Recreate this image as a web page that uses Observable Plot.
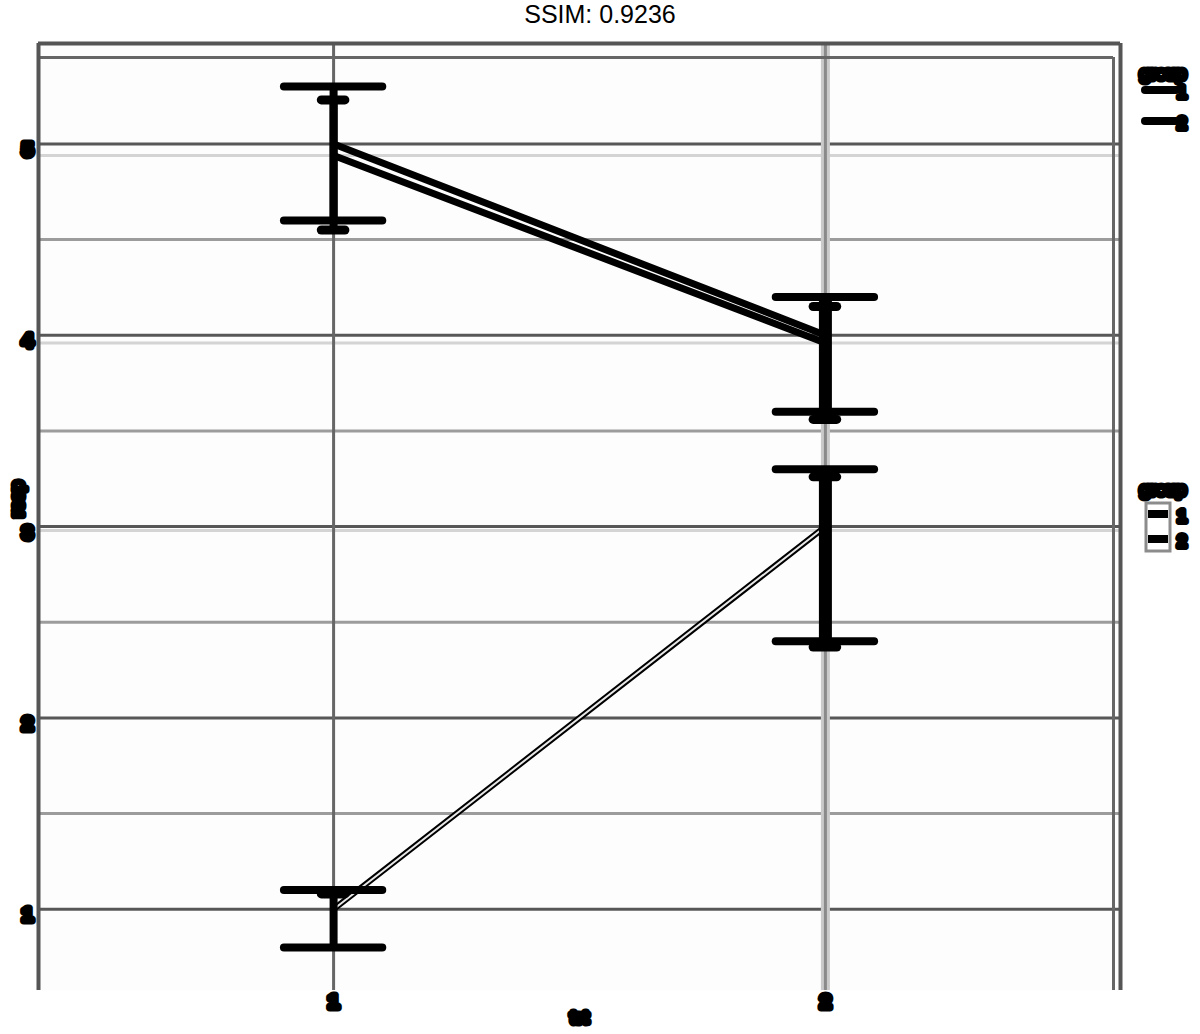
<!DOCTYPE html>
<html><head><meta charset="utf-8">
<script src="https://cdn.jsdelivr.net/npm/d3@7"></script>
<script src="https://cdn.jsdelivr.net/npm/@observablehq/plot@0.6"></script>
<style>
body{margin:0;background:#fff;width:1200px;height:1034px;overflow:hidden}
#title{height:36px;line-height:42px;text-align:center;font:25px "Liberation Sans",Arial,sans-serif;color:#000}
svg{display:block}
</style></head>
<body>
<div id="title">SSIM: 0.9236</div>
<div id="chart"></div>
<script>
// data (ggplot2 geom_errorbar example)
const trt = [1, 1, 2, 2];
const resp = [1, 5, 3, 4];
const group = ["1", "2", "1", "2"];
const upper = [1.1, 5.3, 3.3, 4.2];
const lower = [0.8, 4.6, 2.4, 3.6];
// traces of the second (offset) render in the same units
const resp2 = [1.0, 4.94, 3.0, 3.96];
const upper2 = [1.08, 5.23, 3.26, 4.15];
const lower2 = [null, 4.55, 2.37, 3.56];
const yGrid2 = [4.94, 3.96, 2.98];
// axes
const yTicks = [1, 2, 3, 4, 5];
const yMinor = [1.5, 2.5, 3.5, 4.5];
const xTicks = [1, 2];
const xLabels = ["1", "2"];
const legendTitle = "group";
const legendLabels = ["1", "2"];
const xTitle = "trt";
const yTitle = "resp";

const rows = trt.map((t, i) => ({trt: t, resp: resp[i], group: group[i], upper: upper[i], lower: lower[i],
  resp2: resp2[i], upper2: upper2[i], lower2: lower2[i]}));
const g1 = rows.filter(d => d.group === "1");
const g2 = rows.filter(d => d.group === "2");

const lo = d3.min(lower), hi = d3.max(upper), pad = (hi - lo) * 0.05;
const yDomain = [lo - pad, hi + pad];
const xDomain = [0.4, 2.6];

const blob = {fontFamily: "Liberation Sans, Arial, sans-serif", fontWeight: "bold", fontSize: 19,
  fill: "black", stroke: "black", strokeWidth: 7, strokeLinejoin: "round"};

const plot = Plot.plot({
  width: 1200, height: 998,
  marginLeft: 38, marginRight: 80, marginTop: 7, marginBottom: 44,
  x: {type: "linear", domain: xDomain, axis: null},
  y: {type: "linear", domain: yDomain, axis: null},
  marks: [
    Plot.frame({fill: "#fdfdfd", stroke: "none"}),
    Plot.ruleY(yMinor, {stroke: "#9c9c9c", strokeWidth: 3}),
    Plot.ruleY(yGrid2, {stroke: "#d4d4d4", strokeWidth: 3}),
    Plot.ruleY(yTicks, {stroke: "#575757", strokeWidth: 3}),
    Plot.ruleX([xTicks[0]], {stroke: "#666", strokeWidth: 3}),
    Plot.ruleX([xTicks[1]], {stroke: "#cacaca", strokeWidth: 9}),
    Plot.ruleX([xTicks[1]], {stroke: "#8a8a8a", strokeWidth: 3}),
    // panel borders (two overlapping renders)
    Plot.ruleY([yDomain[1]], {stroke: "#555", strokeWidth: 4}),
    Plot.ruleY([yDomain[1]], {dy: 14, insetRight: 7, stroke: "#666", strokeWidth: 3}),
    Plot.ruleX([xDomain[0]], {stroke: "#555", strokeWidth: 4}),
    Plot.ruleX([xDomain[1]], {stroke: "#555", strokeWidth: 4}),
    Plot.ruleX([xDomain[1]], {dx: -7, insetTop: 14, stroke: "#666", strokeWidth: 3}),
    // lines
    Plot.line(g2, {x: "trt", y: "resp", stroke: "black", strokeWidth: 7}),
    Plot.line(g2, {x: "trt", y: "resp2", stroke: "black", strokeWidth: 7}),
    Plot.line(g1, {x: "trt", y: "resp", stroke: "black", strokeWidth: 6}),
    Plot.line(g1, {x: "trt", y: "resp", stroke: "#e8e8e8", strokeWidth: 2}),
    // error bar stems
    Plot.ruleX(rows.filter(d => d.trt === 1), {x: "trt", y1: "lower", y2: "upper", stroke: "black", strokeWidth: 8}),
    Plot.ruleX(rows.filter(d => d.trt === 2), {x: "trt", y1: "lower", y2: "upper", stroke: "black", strokeWidth: 13}),
    Plot.ruleX(rows.filter(d => d.lower2 != null), {x: "trt", y1: "lower2", y2: "upper2", stroke: "black", strokeWidth: 8}),
    // wide caps
    Plot.ruleY(rows, {y: "upper", x1: d => d.trt - 0.1, x2: d => d.trt + 0.1, stroke: "black", strokeWidth: 8, strokeLinecap: "round"}),
    Plot.ruleY(rows, {y: "lower", x1: d => d.trt - 0.1, x2: d => d.trt + 0.1, stroke: "black", strokeWidth: 8, strokeLinecap: "round"}),
    // narrow caps (second render)
    Plot.ruleY(rows, {y: "upper2", x1: d => d.trt - 0.024, x2: d => d.trt + 0.024, stroke: "black", strokeWidth: 9, strokeLinecap: "round"}),
    Plot.ruleY(rows.filter(d => d.lower2 != null), {y: "lower2", x1: d => d.trt - 0.024, x2: d => d.trt + 0.024, stroke: "black", strokeWidth: 9, strokeLinecap: "round"}),
    // tick labels
    Plot.text(yTicks, {y: d => d, text: d => String(d), frameAnchor: "left", dx: -11, dy: 6, textAnchor: "middle", ...blob}),
    Plot.text(xTicks, {x: d => d, text: (d, i) => xLabels[i], frameAnchor: "bottom", dy: 17, ...blob}),
    Plot.text([xTitle], {x: (xDomain[0] + xDomain[1]) / 2, text: d => d, frameAnchor: "bottom", dy: 32, ...blob, fontSize: 17}),
    Plot.text([yTitle], {y: (yDomain[0] + yDomain[1]) / 2, text: d => d, frameAnchor: "left", dx: -21, rotate: -90, ...blob, fontSize: 17})
  ]
});
document.getElementById("chart").appendChild(plot);

// legends (two overlapping renders)
const svg = d3.select(plot);
const off = 36;
function legend(y0, boxed) {
  const g = svg.append("g").attr("font-family", "Liberation Sans, Arial, sans-serif").attr("font-weight", "bold");
  g.append("text").attr("x", 1163).attr("y", y0 - off).attr("text-anchor", "middle").attr("dy", "0.35em")
    .attr("font-size", 16).attr("fill", "black").attr("stroke", "black").attr("stroke-width", 7)
    .attr("stroke-linejoin", "round").text(legendTitle);
  const ky = boxed ? [y0 + 25, y0 + 50] : [y0 + 17, y0 + 48];
  if (boxed) g.append("rect").attr("x", 1146).attr("y", y0 + 14 - off).attr("width", 24).attr("height", 48)
    .attr("fill", "none").attr("stroke", "#8c8c8c").attr("stroke-width", 3);
  legendLabels.forEach((lab, i) => {
    g.append("line").attr("x1", boxed ? 1148 : 1145).attr("x2", boxed ? 1168 : 1176)
      .attr("y1", ky[i] - off).attr("y2", ky[i] - off).attr("stroke", "black").attr("stroke-width", 8)
      .attr("stroke-linecap", boxed ? "butt" : "round");
    g.append("text").attr("x", 1182).attr("y", ky[i] + 2 - off).attr("dy", "0.35em").attr("text-anchor", "middle")
      .attr("font-size", 16).attr("fill", "black").attr("stroke", "black").attr("stroke-width", 6)
      .attr("stroke-linejoin", "round").text(lab);
  });
}
legend(73, false);
legend(489, true);
</script>
</body></html>
